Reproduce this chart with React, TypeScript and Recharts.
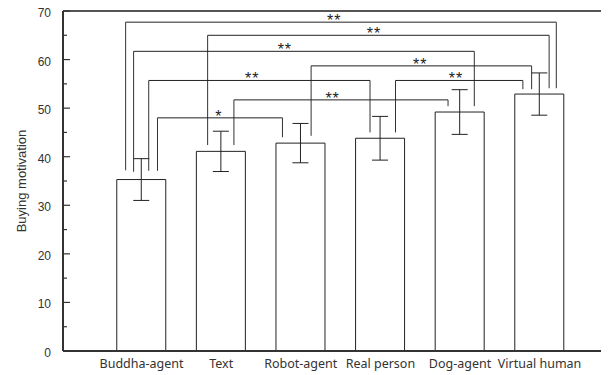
import { BarChart, Bar, XAxis, YAxis, ErrorBar, ReferenceLine, ReferenceDot } from "recharts";

const categories = ["Buddha-agent", "Text", "Robot-agent", "Real person", "Dog-agent", "Virtual human"];
const means = [35.3, 41.1, 42.8, 43.8, 49.2, 52.9];
const errors = [4.3, 4.15, 4.05, 4.5, 4.6, 4.35];
const yTicks = [0, 5, 10, 15, 20, 25, 30, 35, 40, 45, 50, 55, 60, 65, 70];

// significance brackets: from/to bar index, leg offsets, bracket height, leg ends, label
const brackets = [
  { from: 0, fo: -0.2, to: 5, too: 0.21, level: 67.7, fromEnd: 37.2, toEnd: 54.1, at: 2.42, label: "**" },
  { from: 1, fo: -0.17, to: 5, too: 0.12, level: 65.0, fromEnd: 42.4, toEnd: 54.1, at: 2.92, label: "**" },
  { from: 0, fo: -0.1, to: 4, too: 0.18, level: 61.7, fromEnd: 36.9, toEnd: 50.4, at: 1.8, label: "**" },
  { from: 2, fo: 0.13, to: 5, too: -0.1, level: 58.7, fromEnd: 44.3, toEnd: 53.9, at: 3.5, label: "**" },
  { from: 0, fo: 0.09, to: 3, too: -0.13, level: 55.7, fromEnd: 37.1, toEnd: 45.0, at: 1.39, label: "**" },
  { from: 3, fo: 0.19, to: 5, too: -0.21, level: 55.7, fromEnd: 45.0, toEnd: 53.9, at: 3.95, label: "**" },
  { from: 1, fo: 0.16, to: 4, too: -0.15, level: 51.7, fromEnd: 42.4, toEnd: 50.4, at: 2.4, label: "**" },
  { from: 0, fo: 0.2, to: 2, too: -0.23, level: 48.0, fromEnd: 37.1, toEnd: 44.0, at: 0.97, label: "*" },
];

const data = categories.map((name, i) => ({ idx: i, name, mean: means[i], err: errors[i] }));

const YTick = (props: any) => {
  const { x, y, payload } = props;
  const major = payload.value % 10 === 0;
  return (
    <g>
      <line x1={x} x2={x + (major ? 7 : 4)} y1={y} y2={y} stroke="#333" strokeWidth={1.2} />
      {major && (
        <text x={x - 12} y={y} dy={6} textAnchor="end" fill="#333" fontSize={12} fontFamily="Liberation Sans">
          {payload.value}
        </text>
      )}
    </g>
  );
};

const App = () => {
  const lines: any[] = [];
  brackets.forEach((b, k) => {
    const x1 = b.from + b.fo;
    const x2 = b.to + b.too;
    lines.push(
      <ReferenceLine key={`l${k}`} segment={[{ x: x1, y: b.fromEnd }, { x: x1, y: b.level }]} stroke="#333" strokeWidth={1} />,
      <ReferenceLine key={`h${k}`} segment={[{ x: x1, y: b.level }, { x: x2, y: b.level }]} stroke="#222" strokeWidth={1} />,
      <ReferenceLine key={`r${k}`} segment={[{ x: x2, y: b.level }, { x: x2, y: b.toEnd }]} stroke="#333" strokeWidth={1} />,
      <ReferenceDot
        key={`t${k}`}
        x={b.at}
        y={b.level}
        r={0}
        fill="none"
        stroke="none"
        label={{ value: b.label, position: "top", offset: -4, fill: "#222", fontSize: 16, fontFamily: "Liberation Sans", letterSpacing: 1 }}
      />
    );
  });

  return (
    <div style={{ background: "#fff", marginTop: -4 }}>
      <BarChart width={601} height={371} data={data} margin={{ top: 7, right: 0, left: 0, bottom: 0 }}>
        <XAxis
          dataKey="idx"
          type="number"
          domain={[-0.987, 5.872]}
          allowDataOverflow
          ticks={[0, 1, 2, 3, 4, 5]}
          interval={0}
          tickFormatter={(v: number) => categories[v]}
          tickLine={false}
          axisLine={{ stroke: "#333", strokeWidth: 2 }}
          tick={{ fill: "#333", fontSize: 12.5, fontFamily: "Noto Sans" }}
          height={24}
        />
        <YAxis
          domain={[0, 70]}
          ticks={yTicks}
          interval={0}
          width={55}
          tickSize={0}
          tickMargin={0}
          axisLine={{ stroke: "#333", strokeWidth: 2 }}
          tickLine={false}
          tick={<YTick />}
          label={{
            value: "Buying motivation",
            angle: -90,
            position: "insideLeft",
            offset: 13,
            fill: "#333",
            fontSize: 13,
            fontFamily: "Liberation Sans",
            style: { textAnchor: "middle" },
          }}
        />
        <ReferenceLine y={70} stroke="#555" strokeWidth={2} />
        <Bar dataKey="mean" fill="#fff" stroke="#222" strokeWidth={1} barSize={49} isAnimationActive={false}>
          <ErrorBar dataKey="err" width={8} stroke="#222" strokeWidth={1} />
        </Bar>
        {lines}
      </BarChart>
    </div>
  );
};

export default App;
